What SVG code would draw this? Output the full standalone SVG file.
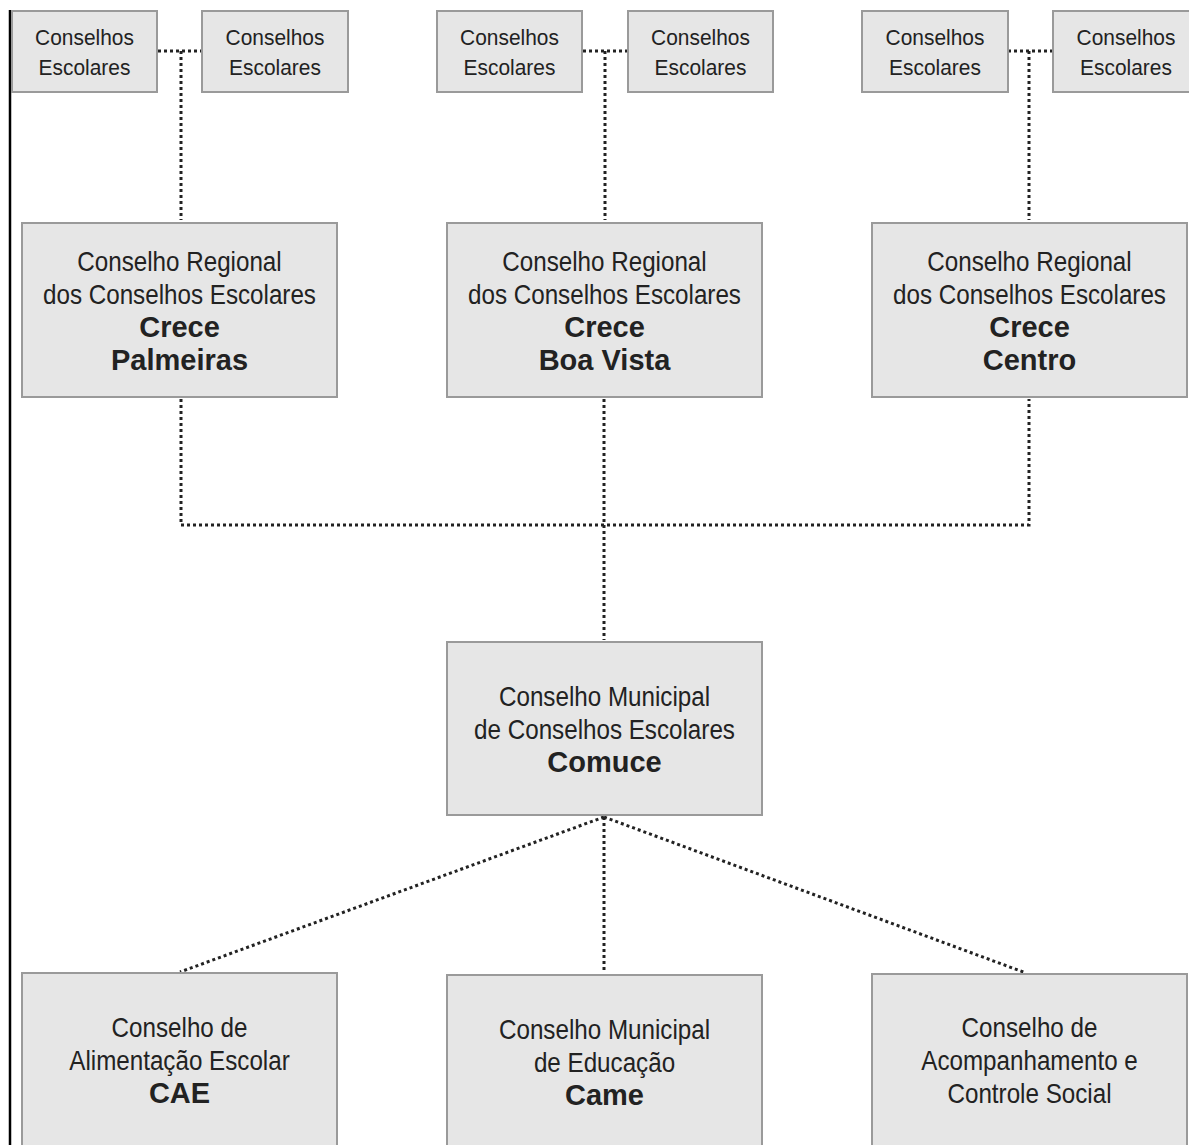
<svg xmlns="http://www.w3.org/2000/svg" width="1189" height="1145" viewBox="0 0 1189 1145">
<style>
.box{fill:#e6e6e6;stroke:#9a9a9a;stroke-width:2}
.t{font-family:"Liberation Sans",Arial,sans-serif;fill:#222;text-anchor:middle}
.s{font-size:22.5px}
.m{font-size:27.5px}
.b{font-weight:bold;font-size:29px}
.d{fill:none;stroke:#222;stroke-width:3;stroke-dasharray:3 3}
</style>
<rect x="0" y="0" width="1189" height="1145" fill="#fff"/>
<line x1="10" y1="10" x2="10" y2="1145" stroke="#000" stroke-width="2.5"/>
<g id="connectors">
<path class="d" d="M158 51H202M181 51V220"/>
<path class="d" d="M583 51H628M605 51V220"/>
<path class="d" d="M1008 51H1053M1029 51V220"/>
<path class="d" d="M181 399V525H1029V399"/>
<path class="d" d="M604 399V640"/>
<path class="d" d="M604 817V973"/>
<path class="d" d="M604 817L180 972"/>
<path class="d" d="M604 817L1026 973"/>
</g>
<g id="ce1"><rect class="box" x="12" y="11" width="145" height="81"/><text class="t s" transform="translate(84.5,45) scale(0.93,1)">Conselhos</text><text class="t s" transform="translate(84.5,75) scale(0.93,1)">Escolares</text></g>
<g id="ce2"><rect class="box" x="202" y="11" width="146" height="81"/><text class="t s" transform="translate(275,45) scale(0.93,1)">Conselhos</text><text class="t s" transform="translate(275,75) scale(0.93,1)">Escolares</text></g>
<g id="ce3"><rect class="box" x="437" y="11" width="145" height="81"/><text class="t s" transform="translate(509.5,45) scale(0.93,1)">Conselhos</text><text class="t s" transform="translate(509.5,75) scale(0.93,1)">Escolares</text></g>
<g id="ce4"><rect class="box" x="628" y="11" width="145" height="81"/><text class="t s" transform="translate(700.5,45) scale(0.93,1)">Conselhos</text><text class="t s" transform="translate(700.5,75) scale(0.93,1)">Escolares</text></g>
<g id="ce5"><rect class="box" x="862" y="11" width="146" height="81"/><text class="t s" transform="translate(935,45) scale(0.93,1)">Conselhos</text><text class="t s" transform="translate(935,75) scale(0.93,1)">Escolares</text></g>
<g id="ce6"><rect class="box" x="1053" y="11" width="146" height="81"/><text class="t s" transform="translate(1126,45) scale(0.93,1)">Conselhos</text><text class="t s" transform="translate(1126,75) scale(0.93,1)">Escolares</text></g>
<g id="crece-palmeiras"><rect class="box" x="22" y="223" width="315" height="174"/>
<text class="t m" transform="translate(179.5,271) scale(0.88,1)">Conselho Regional</text><text class="t m" transform="translate(179.5,304) scale(0.88,1)">dos Conselhos Escolares</text>
<text class="t b" x="179.5" y="337">Crece</text><text class="t b" x="179.5" y="370">Palmeiras</text></g>
<g id="crece-boavista"><rect class="box" x="447" y="223" width="315" height="174"/>
<text class="t m" transform="translate(604.5,271) scale(0.88,1)">Conselho Regional</text><text class="t m" transform="translate(604.5,304) scale(0.88,1)">dos Conselhos Escolares</text>
<text class="t b" x="604.5" y="337">Crece</text><text class="t b" x="604.5" y="370">Boa Vista</text></g>
<g id="crece-centro"><rect class="box" x="872" y="223" width="315" height="174"/>
<text class="t m" transform="translate(1029.5,271) scale(0.88,1)">Conselho Regional</text><text class="t m" transform="translate(1029.5,304) scale(0.88,1)">dos Conselhos Escolares</text>
<text class="t b" x="1029.5" y="337">Crece</text><text class="t b" x="1029.5" y="370">Centro</text></g>
<g id="comuce"><rect class="box" x="447" y="642" width="315" height="173"/>
<text class="t m" transform="translate(604.5,706) scale(0.88,1)">Conselho Municipal</text><text class="t m" transform="translate(604.5,739) scale(0.88,1)">de Conselhos Escolares</text>
<text class="t b" x="604.5" y="772">Comuce</text></g>
<g id="cae"><rect class="box" x="22" y="973" width="315" height="190"/>
<text class="t m" transform="translate(179.5,1037) scale(0.88,1)">Conselho de</text><text class="t m" transform="translate(179.5,1070) scale(0.88,1)">Alimentação Escolar</text>
<text class="t b" x="179.5" y="1103">CAE</text></g>
<g id="came"><rect class="box" x="447" y="975" width="315" height="190"/>
<text class="t m" transform="translate(604.5,1039) scale(0.88,1)">Conselho Municipal</text><text class="t m" transform="translate(604.5,1072) scale(0.88,1)">de Educação</text>
<text class="t b" x="604.5" y="1105">Came</text></g>
<g id="cacs"><rect class="box" x="872" y="974" width="315" height="190"/>
<text class="t m" transform="translate(1029.5,1037) scale(0.88,1)">Conselho de</text><text class="t m" transform="translate(1029.5,1070) scale(0.88,1)">Acompanhamento e</text>
<text class="t m" transform="translate(1029.5,1103) scale(0.88,1)">Controle Social</text></g>
</svg>
